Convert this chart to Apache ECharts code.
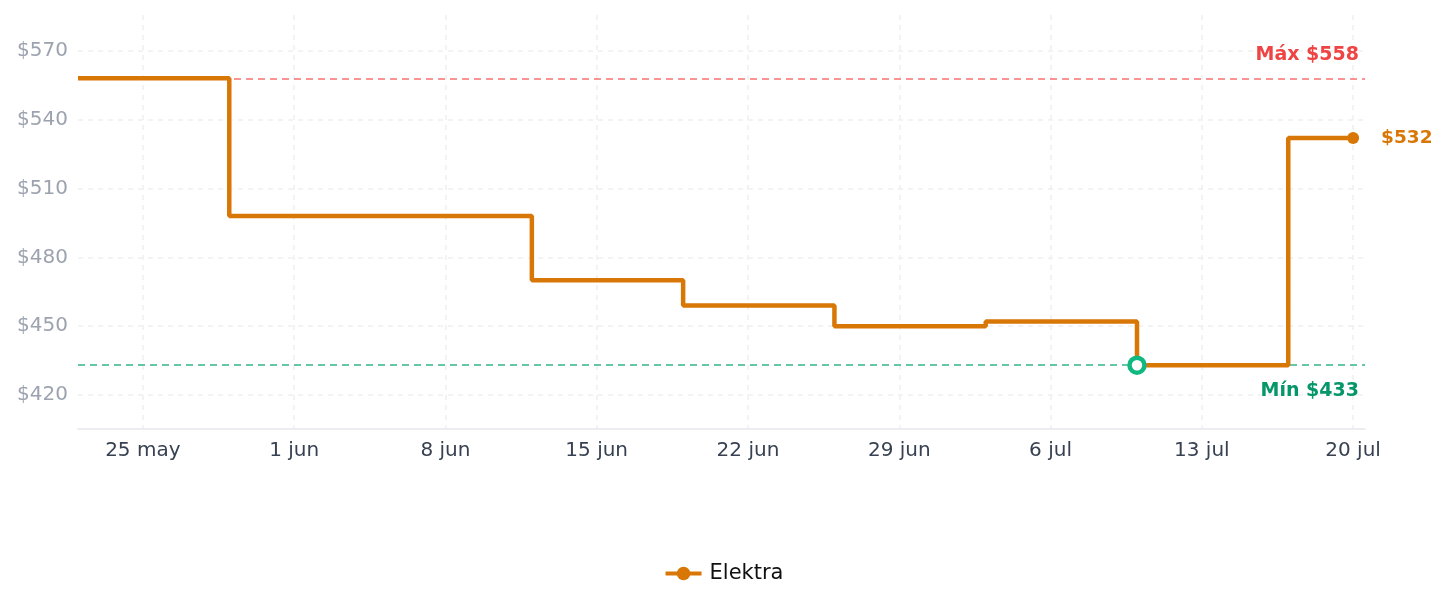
<!DOCTYPE html>
<html>
<head>
<meta charset="utf-8">
<script src="https://cdn.jsdelivr.net/npm/echarts@6/dist/echarts.min.js"></script>
<style>
html,body{margin:0;padding:0;background:#fff;}
#chart{width:1447px;height:607px;}
</style>
</head>
<body>
<div id="chart"></div>
<script>
// ---- data ----
const baseDate = '2025-05-25';              // day 0 of the x scale
const stepDates = ['2025-05-22','2025-05-29','2025-06-12','2025-06-19','2025-06-26','2025-07-03','2025-07-10','2025-07-17','2025-07-20'];
const prices    = [558, 498, 470, 459, 450, 452, 433, 532, 532];
const tickDates = ['2025-05-25','2025-06-01','2025-06-08','2025-06-15','2025-06-22','2025-06-29','2025-07-06','2025-07-13','2025-07-20'];
const tickLabels = ['25 may','1 jun','8 jun','15 jun','22 jun','29 jun','6 jul','13 jul','20 jul'];
const yTicks = [420, 450, 480, 510, 540, 570];
const seriesName = 'Elektra';
const maxPrice = 558;
const minPrice = 433;

const DAY = 86400000;
const dayOf = s => Math.round((Date.parse(s + 'T00:00:00Z') - Date.parse(baseDate + 'T00:00:00Z')) / DAY);
const xTicks = tickDates.map(dayOf);
const labelMap = {};
xTicks.forEach((d, i) => { labelMap[d] = tickLabels[i]; });

const FONT = 'DejaVu Sans';
const minIdx = prices.indexOf(minPrice);
const lastIdx = prices.length - 1;
const seriesData = stepDates.map((d, i) => {
  const item = { value: [dayOf(d), prices[i]] };
  if (i === lastIdx) {
    item.symbol = 'circle';
    item.symbolSize = 12;
    item.label = {
      show: true, position: 'right', distance: 22,
      formatter: p => '$' + p.value[1],
      color: '#d97706', fontWeight: 'bold', fontSize: 18.5, fontFamily: FONT
    };
  } else if (i === minIdx) {
    item.symbol = 'circle';
    item.symbolSize = 15;
    item.itemStyle = { color: '#ffffff', borderColor: '#10b981', borderWidth: 4.5 };
  } else {
    item.symbol = 'none';
  }
  return item;
});

const chart = echarts.init(document.getElementById('chart'));
chart.setOption({
  animation: false,
  backgroundColor: '#ffffff',
  textStyle: { fontFamily: FONT },
  grid: { left: 78, right: 82, top: 15, bottom: 178, containLabel: false, outerBoundsMode: 'none' },
  legend: {
    bottom: 18, left: 'center',
    itemWidth: 36, itemHeight: 17, itemGap: 10,
    lineStyle: { width: 4 },
    textStyle: { fontSize: 21, color: '#111111', fontFamily: FONT, padding: [0, 0, 0, 3] },
    data: [seriesName]
  },
  xAxis: {
    type: 'value',
    min: -3, max: 56.55,
    axisLine: { show: true, lineStyle: { color: '#e5e7eb', width: 1.5 } },
    axisTick: { show: false, customValues: xTicks },
    axisLabel: {
      customValues: xTicks,
      formatter: v => labelMap[Math.round(v)] || '',
      color: '#374151', fontSize: 20, margin: 12, fontFamily: FONT
    },
    splitLine: { show: true, lineStyle: { color: '#f0f0f0', type: [5, 5], width: 1.5 } }
  },
  yAxis: {
    type: 'value',
    min: 405.2, max: 585.6,
    axisLine: { show: false },
    axisTick: { show: false, customValues: yTicks },
    axisLabel: {
      customValues: yTicks,
      formatter: v => '$' + v,
      color: '#9ca3af', fontSize: 20, margin: 10, fontFamily: FONT, padding: [3, 0, 0, 0]
    },
    splitLine: { show: true, lineStyle: { color: '#f0f0f0', type: [5, 5], width: 1.5 } }
  },
  series: [{
    name: seriesName,
    type: 'line',
    step: 'end',
    data: seriesData,
    symbol: 'circle',
    symbolSize: 12,
    showSymbol: true,
    color: '#d97706',
    lineStyle: { color: '#d97706', width: 4.5 },
    itemStyle: { color: '#d97706' },
    z: 5,
    markLine: {
      silent: true,
      symbol: 'none',
      data: [
        {
          yAxis: maxPrice,
          lineStyle: { color: '#f87171', type: [7, 5], width: 1.6 },
          label: {
            show: true, position: 'insideEndTop', distance: [6, 14],
            formatter: 'Máx $' + maxPrice,
            color: '#ef4444', fontWeight: 'bold', fontSize: 19, fontFamily: FONT
          }
        },
        {
          yAxis: minPrice,
          lineStyle: { color: '#34b58a', type: [7, 5], width: 1.6 },
          label: {
            show: true, position: 'insideEndBottom', distance: [6, 16],
            formatter: 'Mín $' + minPrice,
            color: '#059669', fontWeight: 'bold', fontSize: 19, fontFamily: FONT
          }
        }
      ]
    }
  }]
});
</script>
</body>
</html>
